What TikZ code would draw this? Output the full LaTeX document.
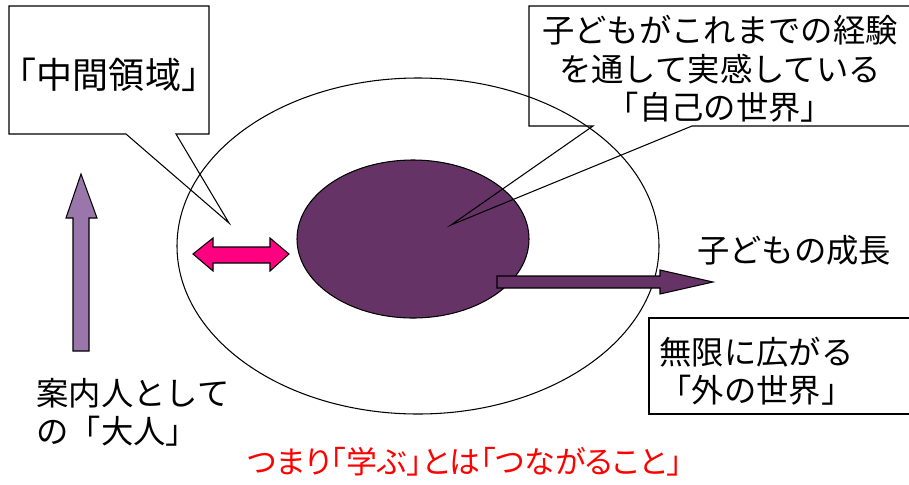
\documentclass[tikz,border=0pt]{standalone}
\usepackage{fontspec}
\setmainfont{Noto Sans CJK JP}
\newfontfamily\propfont{Noto Sans CJK JP}[RawFeature=+palt]
\usetikzlibrary{positioning,calc}

\definecolor{selfpurple}{RGB}{102,51,102}
\definecolor{guidepurple}{RGB}{153,119,170}
\definecolor{linkpink}{RGB}{255,0,128}

\begin{document}
\begin{tikzpicture}[x=0.02cm,y=-0.02cm,
    outline/.style={draw=black, line width=0.6pt, line join=miter},
    jptext/.style={inner sep=0pt, font=\fontsize{18.4}{21.8}\selectfont},
    redtext/.style={inner sep=0pt, text=red, font=\propfont\fontsize{17.6}{20}\selectfont}]
                % Frame
                \clip (0,0) rectangle (909,484);
                % Outer world and self world
                \draw[outline] (418,246) ellipse [x radius=241, y radius=168];
                \draw[outline, fill=selfpurple] (413,239) ellipse [x radius=116, y radius=79];
                % Callouts
                \draw[outline] (9,6) -- (209,6) -- (209,134) -- (176,134) -- (229,223)
                    -- (126,134) -- (9,134) -- cycle;
                \draw[outline] (529,6) -- (915,6) -- (915,126) -- (692,126) -- (451,225)
                    -- (593,126) -- (529,126) -- cycle;
                \draw[outline] (915,318) -- (649,318) -- (649,414) -- (915,414);
                % Arrows
                \draw[outline, fill=guidepurple] (73,351) -- (73,218) -- (66,218) -- (81,174)
                    -- (97,218) -- (89,218) -- (89,351) -- cycle;
                \draw[outline, fill=linkpink] (193,254) -- (213,238) -- (213,247) -- (270,247)
                    -- (270,238) -- (289,254) -- (270,271) -- (270,263) -- (213,263)
                    -- (213,271) -- cycle;
                \draw[outline, fill=selfpurple] (497,276) -- (660,276) -- (660,270) -- (713,282)
                    -- (660,294) -- (660,288) -- (497,288) -- cycle;
                % Labels
                \node[jptext, font=\fontsize{20.5}{24}\selectfont] (midzone) at (109,75) {「中間領域」};
                \node[jptext, align=center] (selfworld) at (720,69)
                    {子どもがこれまでの経験\\を通して実感している\\「自己の世界」};
                \node[jptext] (growth) at (794,250) {子どもの成長};
                \node[jptext, align=left, anchor=west] (outerworld) at (659,371)
                    {無限に広がる\\「外の世界」};
                \node[jptext, align=left, anchor=west] (guide) at (36,412)
                    {案内人として\\の「大人」};
                \node[redtext] (summary) at (465,462) {つまり「学ぶ」とは「つながること」};
            \end{tikzpicture}
\end{document}
